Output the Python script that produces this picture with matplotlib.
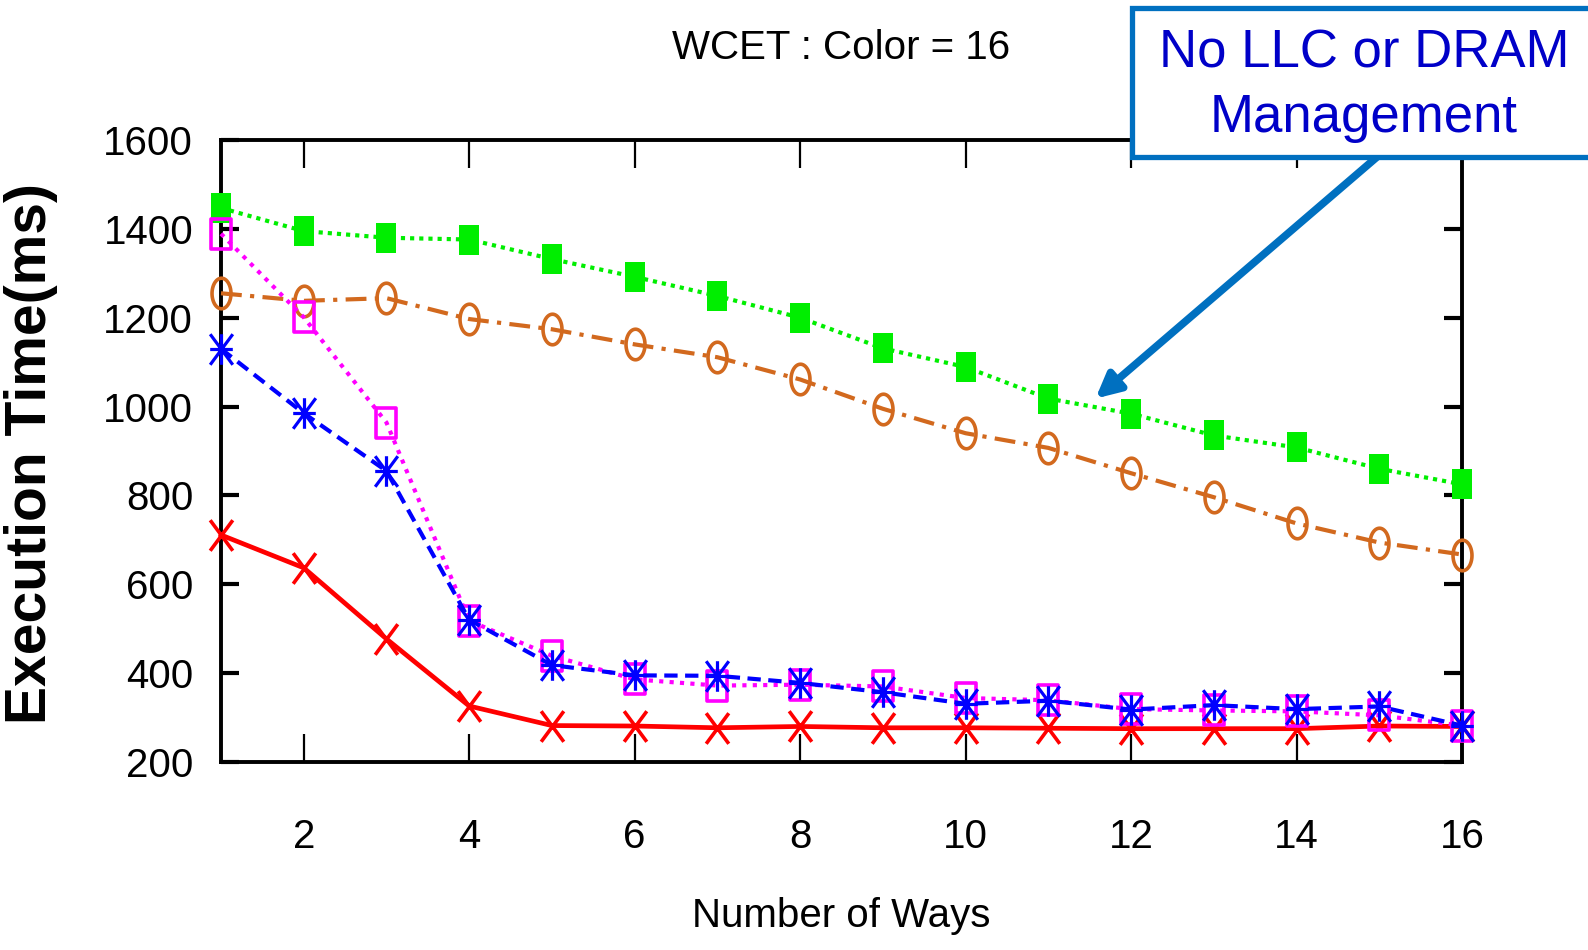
import numpy as np
import matplotlib
matplotlib.use('Agg')
import matplotlib.pyplot as plt
from matplotlib.path import Path
from matplotlib.patches import Rectangle

# ----------------------------------------------------------------------------
# Data
# ----------------------------------------------------------------------------
ways = [1, 2, 3, 4, 5, 6, 7, 8, 9, 10, 11, 12, 13, 14, 15, 16]

wcet_green = [1447, 1395, 1380, 1376, 1332, 1292, 1249, 1200, 1131, 1089,
              1018, 984, 935, 908, 860, 825]
wcet_orange = [1255, 1238, 1244, 1197, 1174, 1140, 1111, 1061, 995, 940,
               907, 850, 796, 737, 694, 667]
wcet_magenta = [1389, 1201, 964, 518, 439, 386, 372, 374, 370, 344,
                339, 319, 316, 314, 305, 282]
wcet_blue = [1130, 985, 855, 520, 418, 395, 394, 378, 357, 331,
             338, 318, 328, 319, 325, 282]
wcet_red = [711, 637, 477, 326, 282, 281, 277, 280, 277, 277,
            276, 275, 275, 275, 281, 280]

xticks = [2, 4, 6, 8, 10, 12, 14, 16]
yticks = [200, 400, 600, 800, 1000, 1200, 1400, 1600]

W, H = 1588, 950

# tall markers (the original picture is stretched vertically)
mw = 0.33
sq_tall = Path([(-mw, -0.5), (mw, -0.5), (mw, 0.5), (-mw, 0.5), (-mw, -0.5)],
               [Path.MOVETO, Path.LINETO, Path.LINETO, Path.LINETO, Path.CLOSEPOLY])
t = np.linspace(0, 2 * np.pi, 60)
circ_tall = Path(np.column_stack([0.31 * np.cos(t), 0.5 * np.sin(t)]), closed=True)
xw = 0.37
x_tall = Path([(-xw, -0.5), (xw, 0.5), (-xw, 0.5), (xw, -0.5)],
              [Path.MOVETO, Path.LINETO, Path.MOVETO, Path.LINETO])
star_tall = Path([(-xw, -0.5), (xw, 0.5), (-xw, 0.5), (xw, -0.5),
                  (0, -0.5), (0, 0.5), (-xw, 0), (xw, 0)],
                 [Path.MOVETO, Path.LINETO] * 4)

plt.rcParams['font.family'] = ['Liberation Sans', 'DejaVu Sans']

fig = plt.figure(figsize=(W / 100, H / 100), dpi=100)
fig.patch.set_facecolor('white')
ax = fig.add_axes([221 / W, 1 - 762 / H, (1462 - 221) / W, (762 - 140) / H])

lw = 3.0
ms = 22
mew = 2.6
ax.plot(ways, wcet_orange, color='#D2691E', linestyle=(0, (5, 2, 1, 2)), lw=lw,
        marker=circ_tall, markersize=ms, markerfacecolor='none',
        markeredgewidth=mew, clip_on=False, zorder=3)
ax.plot(ways, wcet_green, color='#00EE00', linestyle=(0, (1, 1.2)), lw=lw,
        marker=sq_tall, markersize=ms, markerfacecolor='#00EE00',
        markeredgewidth=0, clip_on=False, zorder=3)
ax.plot(ways, wcet_red, color='#FF0000', linestyle='-', lw=lw + 0.4,
        marker=x_tall, markersize=ms, markeredgewidth=mew,
        clip_on=False, zorder=3)
ax.plot(ways, wcet_magenta, color='#FF00FF', linestyle=(0, (1, 1.5)), lw=lw,
        marker=sq_tall, markersize=ms, markerfacecolor='none',
        markeredgewidth=mew, clip_on=False, zorder=4)
ax.plot(ways, wcet_blue, color='#0000FF', linestyle=(0, (3.2, 1.8)), lw=lw,
        marker=star_tall, markersize=ms, markeredgewidth=2.3,
        clip_on=False, zorder=4)

ax.set_xlim(1, 16)
ax.set_ylim(200, 1600)
ax.set_xticks(xticks)
ax.set_yticks(yticks)
ax.tick_params(axis='x', direction='in', length=20, width=1.6, top=True,
               bottom=True, labelsize=29, pad=40)
ax.tick_params(axis='y', direction='in', length=13, width=3, left=True,
               right=True, labelsize=29, pad=20)
for sp in ax.spines.values():
    sp.set_linewidth(2.8)

fig.text(841 / W, 1 - 48 / H, 'WCET : Color = 16', ha='center', va='center',
         fontsize=29)
fig.text(841 / W, 1 - 916 / H, 'Number of Ways', ha='center', va='center',
         fontsize=29)
fig.text(31 / W, 1 - 453 / H, 'Execution Time(ms)', rotation=90,
         ha='center', va='center', fontsize=41, fontweight='bold')

# callout box + arrow
ax.annotate('', xy=(11.57, 1018), xycoords='data',
            xytext=(1377 / W, 1 - 157 / H), textcoords='figure fraction',
            annotation_clip=False,
            arrowprops=dict(arrowstyle='-|>', lw=5.5, color='#0070C0',
                            mutation_scale=36, shrinkA=0, shrinkB=0))
box = Rectangle((1132 / W, 1 - 157 / H), 0.4, (157 - 8) / H,
                transform=fig.transFigure, facecolor='white',
                edgecolor='#0070C0', lw=3.8, zorder=10)
fig.add_artist(box)
fig.text(1364 / W, 1 - 54 / H, 'No LLC or DRAM', ha='center', va='center',
         fontsize=38, color='#0000C8', zorder=11)
fig.text(1364 / W, 1 - 118 / H, 'Management', ha='center', va='center',
         fontsize=38, color='#0000C8', zorder=11)

fig.savefig('out.png', dpi=100)
